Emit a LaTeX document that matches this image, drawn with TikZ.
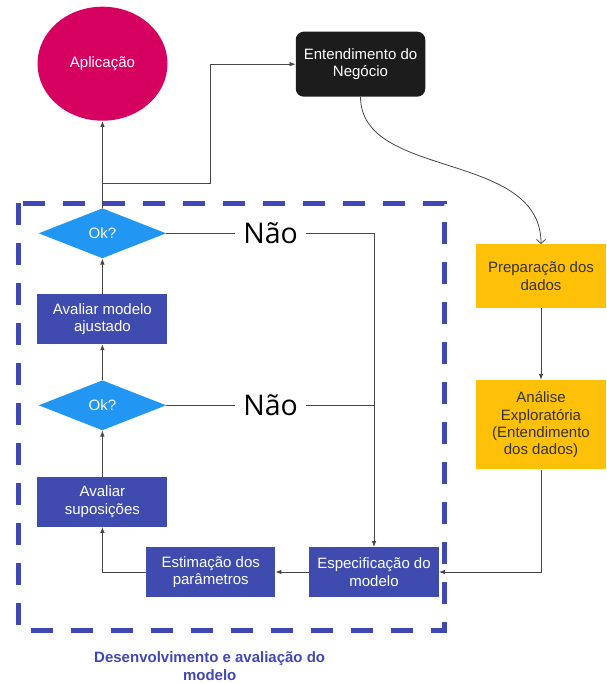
\documentclass[tikz,border=0pt]{standalone}
\usepackage{fontspec}
\setmainfont{Liberation Sans}
\newfontfamily\naofont{Open Sans}
\usetikzlibrary{shapes.geometric,arrows.meta}
\definecolor{appc}{RGB}{214,0,96}
\definecolor{blk}{RGB}{28,28,28}
\definecolor{dia}{RGB}{33,150,243}
\definecolor{ind}{RGB}{63,75,175}
\definecolor{amb}{RGB}{255,193,7}
\definecolor{dsh}{RGB}{63,72,180}
\definecolor{lin}{RGB}{70,70,70}
\tikzset{
  txt/.style={font=\fontsize{15}{17.3}\selectfont, align=center, inner sep=0pt},
  indbox/.style={txt, rectangle, fill=ind, text=white, minimum width=130pt, minimum height=50pt},
  ambbox/.style={txt, rectangle, fill=amb, text=black!80, minimum width=130pt},
  okdia/.style={txt, diamond, fill=dia, text=white, minimum width=127.5pt, minimum height=50pt},
  naotxt/.style={font=\naofont\fontsize{28.5}{31}\selectfont, inner xsep=8pt, inner ysep=0pt},
  conn/.style={draw=lin, line width=0.8pt},
  arr/.style={conn, -{Latex[length=6pt,width=4.5pt]}},
  openarr/.style={conn, -{Straight Barb[length=4pt,width=9pt]}},
}
\begin{document}
\begin{tikzpicture}[x=1pt,y=-1pt]
\useasboundingbox (0,0) rectangle (606,684);
% dashed group frame
\draw[dsh, line width=5pt, dash pattern=on 22pt off 18pt] (18.5,203.3) rectangle (444.5,630.7);
% nodes
\node[txt, ellipse, fill=appc, text=white, minimum width=130pt, minimum height=114pt] (app) at (102.5,63.7) {Aplicação};
\node[txt, rectangle, rounded corners=8pt, fill=blk, text=white, minimum width=129.5pt, minimum height=65pt] (ent) at (360.5,64.2) {Entendimento do\\Negócio};
\node[okdia] (ok1) at (102.4,233.3) {Ok?};
\node[indbox] (adj) at (102.4,319) {Avaliar modelo\\ajustado};
\node[okdia] (ok2) at (102.4,405.3) {Ok?};
\node[indbox] (sup) at (102.4,501.7) {Avaliar\\suposições};
\node[indbox, minimum width=129pt, minimum height=49.4pt] (est) at (210.7,572) {Estimação dos\\parâmetros};
\node[indbox, minimum width=129.5pt, minimum height=49.4pt] (esp) at (374,572) {Especificação do\\modelo};
\node[ambbox, minimum height=64pt] (prep) at (541,276.2) {Preparação dos\\dados};
\node[ambbox, minimum height=89.3pt] (ana) at (541,424.7) {Análise\\Exploratória\\(Entendimento\\dos dados)};
\node[naotxt] (nao1) at (270.6,233.3) {Não};
\node[naotxt] (nao2) at (270.6,405.3) {Não};
\node[font=\bfseries\fontsize{15}{17.3}\selectfont, text=dsh, align=center, inner sep=0pt] (cap) at (209.7,666) {Desenvolvimento e avaliação do\\modelo};
\coordinate (br) at (102.4,183.3);
\coordinate (bk) at (210.7,183.3);
% connectors
\draw[arr] (sup.north) -- (ok2.south);
\draw[arr] (ok2.north) -- (adj.south);
\draw[arr] (adj.north) -- (ok1.south);
\draw[arr] (ok1.north) -- (app.south);
\draw[arr] (br) -- (bk) |- (ent.west);
\draw[openarr] (ent.south) .. controls (361,180) and (541,150) .. (prep.north);
\draw[arr] (prep.south) -- (ana.north);
\draw[arr] (ana.south) |- (esp.east);
\draw[arr] (esp.west) -- (est.east);
\draw[arr] (est.west) -| (sup.south);
\draw[conn] (ok1.east) -- (ok1.east -| nao1.west);
\draw[arr] (nao1.east) -| (esp.north);
\draw[conn] (ok2.east) -- (ok2.east -| nao2.west);
\draw[conn] (nao2.east) -- (esp.north |- nao2.east);
\end{tikzpicture}
\end{document}
